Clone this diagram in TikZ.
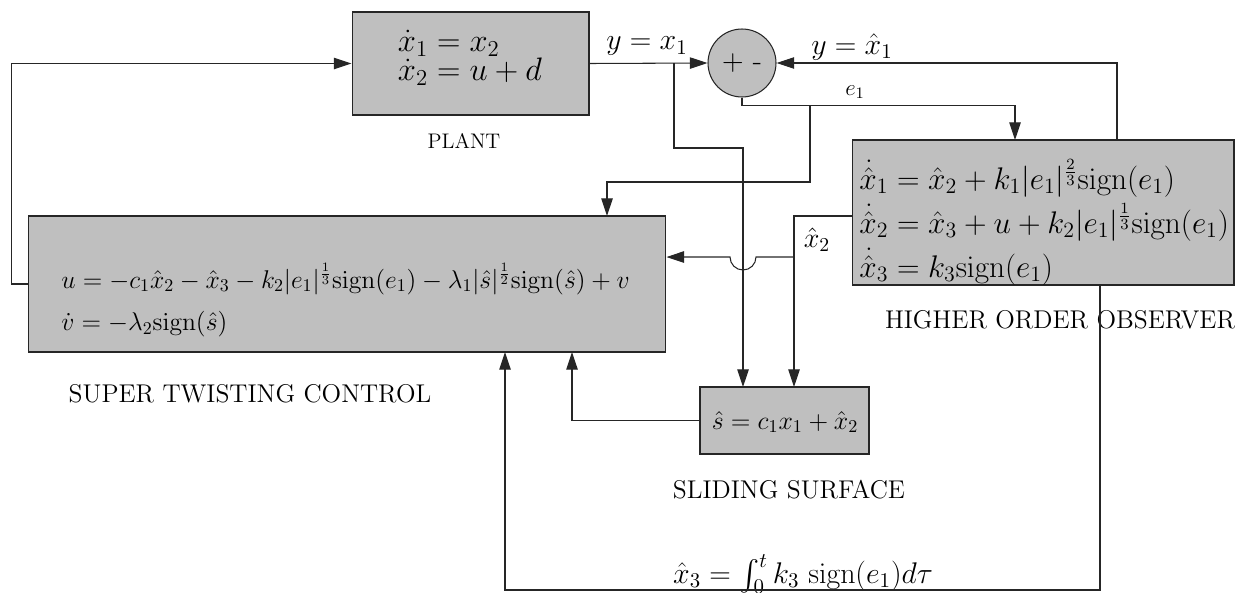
\RequirePackage{fix-cm}
\documentclass[tikz,border=0pt]{standalone}
\usepackage{amsmath}
\usetikzlibrary{arrows.meta}

\begin{document}
\begin{tikzpicture}[x=0.02cm, y=-0.02cm,
    block/.style={rectangle, draw=black!85, fill=black!25, line width=0.6pt},
    sum/.style={circle, draw=black!85, fill=black!25, line width=0.6pt, minimum size=1.36cm, inner sep=0pt},
    arrow/.style={-{Triangle[length=10pt,width=6.5pt]}, line width=0.6pt, draw=black!85},
    caption/.style={font=\fontsize{14.6}{16}\selectfont},
    biglbl/.style={font=\fontsize{17}{19}\selectfont, inner sep=1pt}
]
\useasboundingbox (0,0) rectangle (1241,592);

% Plant
\node[block, minimum width=4.74cm, minimum height=2.06cm] (plant) at (470.5,63.5) {};
\node[align=left, font=\fontsize{18.5}{16.5}\selectfont] (planteq) at (470,58) {$\dot{x}_1 = x_2$\\ $\dot{x}_2 = u + d$};
\node[font=\fontsize{12}{13}\selectfont] (plantlbl) at (464,141) {PLANT};

% Comparator
\node[sum] (sum) at (742,63) {\fontsize{17}{19}\selectfont $+$ -};

% Higher order observer
\node[block, minimum width=7.64cm, minimum height=2.9cm] (hoo) at (1043,212.5) {};
\node[align=left, anchor=west, inner sep=0pt, font=\fontsize{17.8}{25}\selectfont] (hooeq) at (859,222)
    {$\dot{\hat{x}}_1 = \hat{x}_2 + k_1|e_1|^{\frac{2}{3}}\mathrm{sign}(e_1)$\\
     $\dot{\hat{x}}_2 = \hat{x}_3 + u + k_2|e_1|^{\frac{1}{3}}\mathrm{sign}(e_1)$\\
     $\dot{\hat{x}}_3 = k_3\mathrm{sign}(e_1)$};
\node[caption] (hoolbl) at (1060,320) {HIGHER ORDER OBSERVER};

% Super twisting control
\node[block, minimum width=12.76cm, minimum height=2.72cm] (stc) at (347,284) {};
\node[align=left, anchor=west, inner sep=0pt, font=\fontsize{14.6}{24}\selectfont] (stceq) at (61,300)
    {$u = -c_1\hat{x}_2 - \hat{x}_3 - k_2|e_1|^{\frac{1}{3}}\mathrm{sign}(e_1) - \lambda_1|\hat{s}|^{\frac{1}{2}}\mathrm{sign}(\hat{s}) + v$\\
     $\dot{v} = -\lambda_2\mathrm{sign}(\hat{s})$};
\node[caption] (stclbl) at (250,394) {SUPER TWISTING CONTROL};

% Sliding surface
\node[block, minimum width=3.38cm, minimum height=1.34cm] (ss) at (784.5,420.5) {};
\node[font=\fontsize{14.7}{16}\selectfont] (sseq) at (785,422) {$\hat{s} = c_1x_1 + \hat{x}_2$};
\node[caption] (sslbl) at (789,490) {SLIDING SURFACE};

% Junctions and ports
\coordinate (ybr) at (674,63);
\coordinate (ebr) at (810,105);
\coordinate (xbr) at (794,257);
\coordinate (ssin1) at (743,387);
\coordinate (ssin2) at (794,387);
\coordinate (hooin) at (1015,140);
\coordinate (hooout1) at (1117,140);
\coordinate (hooout2) at (852,216);
\coordinate (hooout3) at (1100,285);
\coordinate (stcin1) at (607,216);
\coordinate (stcin2) at (572,352);
\coordinate (stcin3) at (505,352);

% Signal labels
\node[biglbl] (ylbl) at (647,46) {$y = x_1$};
\node[biglbl] (yhlbl) at (852,47) {$y = \hat{x}_1$};
\node[font=\fontsize{13}{15}\selectfont] (elbl) at (855,92) {$e_1$};
\node[font=\fontsize{16}{18}\selectfont] (x2lbl) at (817,240) {$\hat{x}_2$};
\node[biglbl] (x3lbl) at (803,574) {$\hat{x}_3 = \int_0^t k_3\ \mathrm{sign}(e_1)d\tau$};

% Arrows
\draw[arrow] (stc.west) -- ++(-16,0) |- (plant.west);
\draw[arrow] (plant.east) -- (sum.west);
\draw[arrow] (ybr) -- (674,148) -| (ssin1);
\draw[arrow] (hooout1) |- (sum.east);
\draw[arrow] (sum.south) -- ++(0,8) -| (hooin);
\draw[arrow] (ebr) -- (810,182) -| (stcin1);
\draw[arrow] (hooout2) -| (ssin2);
\draw[arrow] (xbr) -- (756,257) arc[start angle=0, end angle=-180, radius=0.26cm] -- (stc.east |- xbr);
\draw[arrow] (hooout3) -- (1100,590) -| (stcin3);
\draw[arrow] (ss.west) -| (stcin2);

\end{tikzpicture}
\end{document}
